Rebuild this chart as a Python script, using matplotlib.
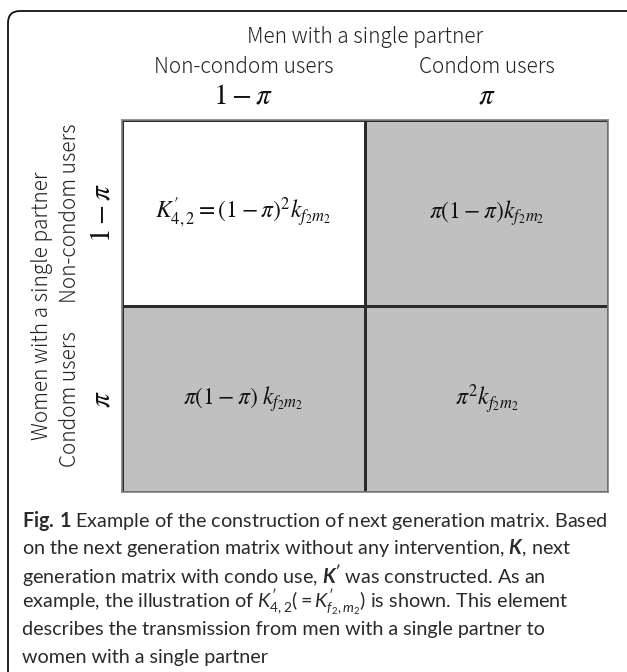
import matplotlib
matplotlib.use("Agg")
import matplotlib.pyplot as plt
import matplotlib.transforms as mtransforms
from matplotlib.colors import ListedColormap
from matplotlib.patches import FancyBboxPatch
import numpy as np

# Column / row headers of the 2x2 matrix
group_col = "Men with a single partner"
group_row = "Women with a single partner"
col_labels = ["Non-condom users", "Condom users"]
row_labels = ["Non-condom users", "Condom users"]
col_probs = [r"$1-\pi$", r"$\pi$"]
row_probs = [r"$1-\pi$", r"$\pi$"]

# 0 = white cell, 1 = shaded cell
shade = np.array([[0, 1], [1, 1]])
cell_text = [
    [r"$K^{\prime}_{4,2}=(1-\pi)^2k_{f_2m_2}$", r"$\pi(1-\pi)k_{f_2m_2}$"],
    [r"$\pi(1-\pi)\;k_{f_2m_2}$", r"$\pi^2k_{f_2m_2}$"],
]

caption = [
    r"$\mathbf{Fig.\,1}$ Example of the construction of next generation matrix. Based",
    r"on the next generation matrix without any intervention, $\mathbfit{K}$, next",
    r"generation matrix with condo use, $\mathbfit{K'}$ was constructed. As an",
    r"example, the illustration of $K^{\prime}_{4,2}(=K^{\prime}_{f_2,m_2})$ is shown. This element",
    r"describes the transmission from men with a single partner to",
    r"women with a single partner",
]

plt.rcParams["mathtext.fontset"] = "custom"
plt.rcParams["mathtext.rm"] = "Lato"
plt.rcParams["mathtext.it"] = "Lato:italic"
plt.rcParams["mathtext.bf"] = "Lato:bold"
plt.rcParams["mathtext.bfit"] = "Lato:bold:italic"

W, H = 627, 672
fig = plt.figure(figsize=(W / 100, H / 100), dpi=100)

# background axes in pixel units (y down)
bg = fig.add_axes([0, 0, 1, 1])
bg.set_xlim(0, W)
bg.set_ylim(H, 0)
bg.axis("off")
bg.add_patch(FancyBboxPatch((8, 11), 700, 720,
                            boxstyle="round,pad=0,rounding_size=12",
                            fc="none", ec="#111111", lw=1.3))

# matrix axes
x0, x1, y0, y1 = 122, 608, 120, 492
ax = fig.add_axes([x0 / W, 1 - y1 / H, (x1 - x0) / W, (y1 - y0) / H])
cmap = ListedColormap(["white", "#c0c0c0"])
ax.pcolormesh(shade, cmap=cmap, vmin=0, vmax=1, edgecolor="#2a2a2a", lw=0.8)
ax.set_xlim(0, 2)
ax.set_ylim(2, 0)
ax.set_xticks([])
ax.set_yticks([])
for s in ax.spines.values():
    s.set_color("#808080")
    s.set_linewidth(1.2)

for i in range(2):
    for j in range(2):
        ax.text(j + 0.5, i + 0.5, cell_text[i][j], ha="center", va="center",
                fontsize=17, math_fontfamily="stix", color="#111111")

lab_font = "Noto Sans CJK JP"
lab_col = "#222222"

# top headers (x in data, y in pixels)
tr_top = mtransforms.blended_transform_factory(ax.transData, bg.transData)
ax.text(1.0, 37, group_col, transform=tr_top, ha="center", va="center",
        fontsize=15, family=lab_font, fontweight="light", color=lab_col)
for j in range(2):
    ax.text(j + 0.5, 67, col_labels[j], transform=tr_top, ha="center", va="center",
            fontsize=15, family=lab_font, fontweight="light", color=lab_col)
    ax.text(j + 0.5, 95, col_probs[j], transform=tr_top, ha="center", va="center",
            fontsize=21, math_fontfamily="stix", color="#111111")

# left headers (rotated)
tr_left = mtransforms.blended_transform_factory(bg.transData, ax.transData)
ax.text(42, 1.0, group_row, transform=tr_left, ha="center", va="center",
        rotation=90, fontsize=15, family=lab_font, fontweight="light", color=lab_col)
for i in range(2):
    ax.text(70, i + 0.5, row_labels[i], transform=tr_left, ha="center", va="center",
            rotation=90, fontsize=15, family=lab_font, fontweight="light", color=lab_col)
    ax.text(102, i + 0.5, row_probs[i], transform=tr_left, ha="center", va="center",
            rotation=90, fontsize=21, math_fontfamily="stix", color="#111111")

# caption
for k, line in enumerate(caption):
    bg.text(22, 521 + k * 27.2, line, ha="left", va="center", fontsize=14.2,
            family="Lato", color="#2a2a2a", math_fontfamily="custom")

fig.savefig("out.png", dpi=100)
